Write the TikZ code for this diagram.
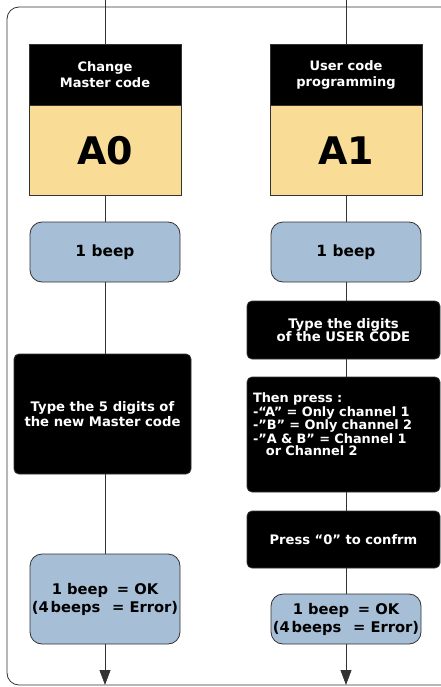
\documentclass[tikz,border=0pt]{standalone}
\usepackage{fontspec}
\setmainfont{DejaVu Sans}
\usetikzlibrary{arrows.meta}
\definecolor{codeyellow}{HTML}{F9DC96}
\definecolor{beepblue}{HTML}{A6BED6}
\definecolor{edgegray}{HTML}{333333}

\begin{document}
\begin{tikzpicture}[
		x=1pt, y=-1pt,
		every node/.style={draw=edgegray, line width=0.8pt, inner sep=0pt, align=center},
		hdbox/.style={fill=black, text=white, minimum width=152pt, minimum height=61pt,
			font=\bfseries\fontsize{13}{16}\selectfont},
		codebox/.style={fill=codeyellow, minimum width=152pt, minimum height=90pt,
			font=\bfseries\fontsize{38}{40}\selectfont},
		beepbox/.style={fill=beepblue, rounded corners=12pt, minimum width=150pt},
		blkbox/.style={fill=black, text=white, rounded corners=5pt},
		link/.style={draw=edgegray, line width=0.8pt}
	]
  \useasboundingbox (0,0) rectangle (441,687);
  \clip (0,0) rectangle (441,687);
  \draw [edgegray, line width=0.8pt, rounded corners=12pt] (7,7) rectangle (480,685);

  % left column
  \node (hdA) [hdbox] at (105,74.5) {Change\\Master code};
  \node (codeA) [codebox, anchor=north] at (hdA.south) {A0};
  \node (beepA) [beepbox, minimum height=60pt, font=\bfseries\fontsize{15.4}{18}\selectfont] at (105,252) {1 beep};
  \node (typeA) [blkbox, minimum width=177pt, minimum height=120pt, font=\bfseries\fontsize{13.2}{15}\selectfont] at (102.5,414) {Type the 5 digits of\\the new Master code};
  \node (okA) [beepbox, minimum height=90pt, font=\bfseries\fontsize{14.7}{18}\selectfont] at (105,599) {1 beep\hspace{0.6em}= OK\\(4\hspace{0.12em}beeps\hspace{0.8em}= Error)};

  % right column
  \node (hdB) [hdbox] at (346,74.5) {User code\\programming};
  \node (codeB) [codebox, anchor=north] at (hdB.south) {A1};
  \node (beepB) [beepbox, minimum height=60pt, font=\bfseries\fontsize{15.4}{18}\selectfont] at (346,252) {1 beep};
  \node (digB) [blkbox, minimum width=193pt, minimum height=58pt, font=\bfseries\fontsize{13.2}{13.5}\selectfont] at (343.5,330) {Type the digits\\of the USER CODE};
  \node (pressB) [blkbox, minimum width=193pt, minimum height=115pt, text width=181pt, align=left,
    font=\bfseries\fontsize{12.9}{12.3}\selectfont] at (343.5,434.5)
    {Then press :\\-“A” = Only channel 1\\-”B” = Only channel 2\\-”A \& B” = Channel 1\\\hspace*{1em}or Channel 2\rule[-20pt]{0pt}{0pt}};
  \node (confB) [blkbox, minimum width=193pt, minimum height=57pt, font=\bfseries\fontsize{13.1}{15}\selectfont] at (343.5,539.5) {Press “0” to confrm};
  \node (okB) [beepbox, minimum height=50pt, font=\bfseries\fontsize{14.7}{18}\selectfont] at (346,619) {1 beep\hspace{0.6em}= OK\\(4\hspace{0.12em}beeps\hspace{0.8em}= Error)};

  \coordinate (topA) at (105,0);
  \coordinate (topB) at (346,0);
  \coordinate (endA) at (105,685);
  \coordinate (endB) at (346,685);

  \draw [link] (topA) -- (hdA);
  \draw [link] (codeA) -- (beepA);
  \draw [link] (beepA.south) -- (beepA.south |- typeA.north);
  \draw [link] (beepA.south |- typeA.south) -- (okA.north);
  \draw [link, -{Triangle[length=15pt, width=11pt]}] (okA) -- (endA);

  \draw [link] (topB) -- (hdB);
  \draw [link] (codeB) -- (beepB);
  \draw [link] (beepB.south) -- (beepB.south |- digB.north);
  \draw [link] (beepB.south |- digB.south) -- (beepB.south |- pressB.north);
  \draw [link] (beepB.south |- pressB.south) -- (beepB.south |- confB.north);
  \draw [link] (beepB.south |- confB.south) -- (okB.north);
  \draw [link, -{Triangle[length=15pt, width=11pt]}] (okB) -- (endB);
\end{tikzpicture}
\end{document}
